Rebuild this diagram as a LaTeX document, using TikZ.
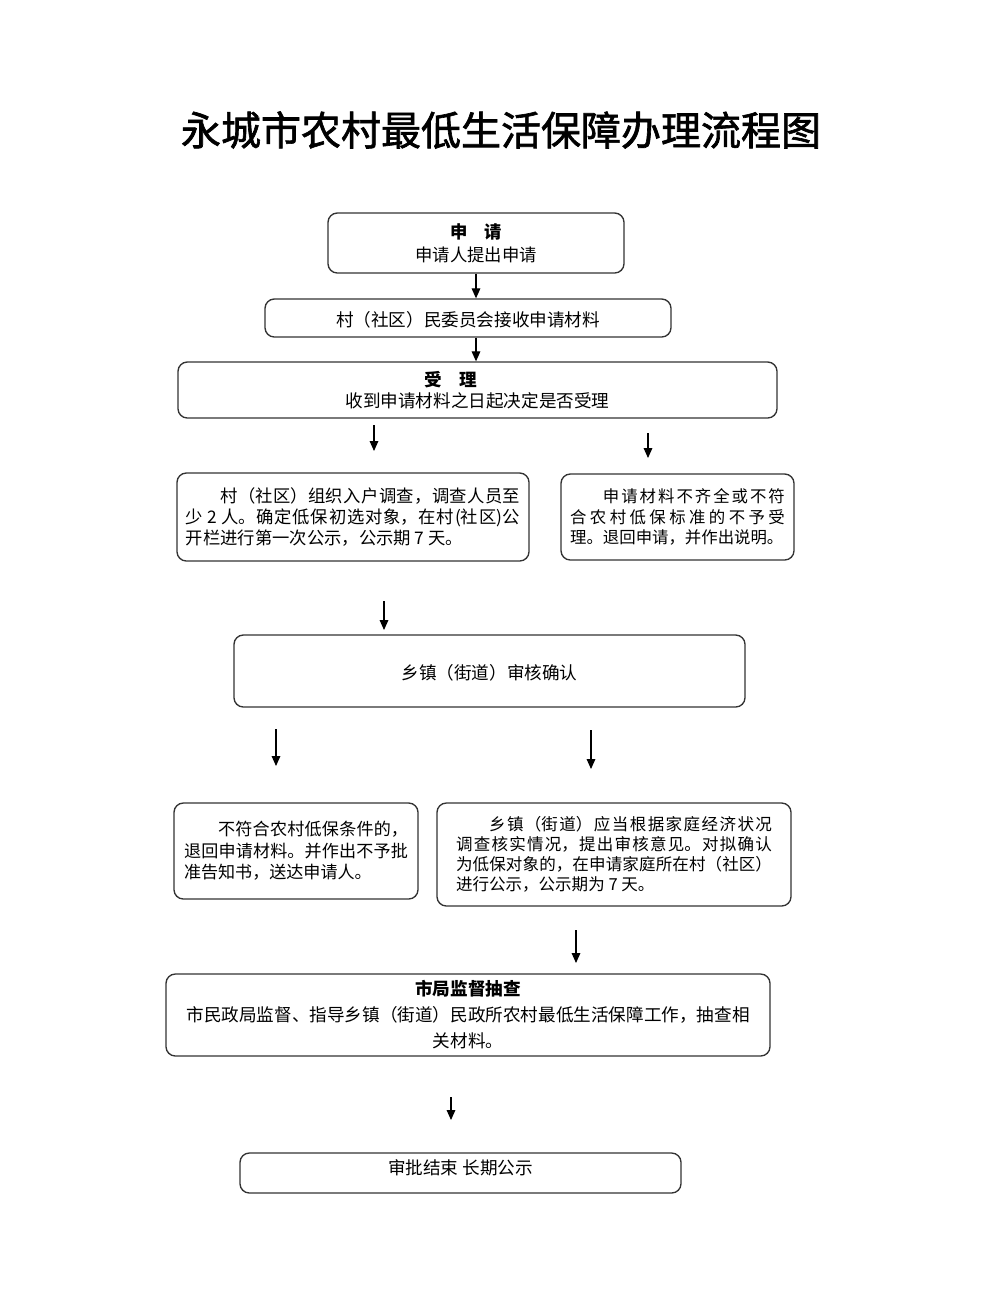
\documentclass[tikz,border=0pt]{standalone}
\usepackage{fontspec}
\setmainfont{Noto Sans CJK SC}
\newfontfamily\titlefont[FakeBold=1.6]{Noto Sans CJK SC}
\usetikzlibrary{arrows.meta}
\XeTeXlinebreaklocale "zh"
\XeTeXlinebreakskip=0pt plus 3pt minus 0.3pt
\newcommand{\boxfont}{\fontsize{13.2}{17}\selectfont}

\begin{document}
\begin{tikzpicture}[x=0.75pt,y=0.75pt,yscale=-1,xscale=1,
  flowbox/.style={draw=black!80, line width=1pt, rounded corners=7pt, inner sep=2pt, font=\boxfont},
  flowarrow/.style={draw=black, line width=0.8pt, -{Triangle[width=6.5pt,length=7.5pt]}}]
\useasboundingbox (0,0) rectangle (1000,1304);

% Title
\draw (501,130) node [font=\fontsize{30}{36}\titlefont] (title) {永城市农村最低生活保障办理流程图};

% Boxes
\node [flowbox, minimum width=222pt, minimum height=45pt, align=center, font=\fontsize{13}{17.25}\selectfont] (apply) at (476,243) {{\bfseries 申　请}\\申请人提出申请};
\node [flowbox, minimum width=304.5pt, minimum height=28.5pt, text height=14pt] (recv) at (468,318) {村（社区）民委员会接收申请材料};
\node [flowbox, minimum width=449.25pt, minimum height=42pt, align=center, font=\fontsize{13.2}{15.75}\selectfont] (accept) at (477.5,390) {{\bfseries 受　理}\hspace*{3em}\\收到申请材料之日起决定是否受理};
\node [flowbox, minimum width=264pt, minimum height=66pt, text width=251pt, align=justify, font=\fontsize{13}{15.4}\selectfont] (survey) at (353,517) {\noindent\hspace*{2em}村（社区）组织入户调查，调查人员至\linebreak 少 2 人。确定低保初选对象，在村(社区)公\linebreak 开栏进行第一次公示，公示期 7 天。\par\vspace*{8pt}};
\node [flowbox, minimum width=174.75pt, minimum height=64.5pt, text width=161pt, align=justify, font=\fontsize{12.3}{15.4}\selectfont] (reject) at (677.5,517) {\noindent\hspace*{2em}申请材料不齐全或不符\linebreak 合农村低保标准的不予受\linebreak 理。退回申请，并作出说明。\par\vspace*{6pt}};
\node [flowbox, minimum width=383.25pt, minimum height=54pt, text height=14pt] (town) at (489.5,671) {乡镇（街道）审核确认};
\node [flowbox, minimum width=183pt, minimum height=72pt, text width=168pt, align=justify, font=\fontsize{12.8}{16}\selectfont] (deny) at (296,851) {\noindent\hspace*{2em}不符合农村低保条件的，\linebreak 退回申请材料。并作出不予批\linebreak 准告知书，送达申请人。\par\vspace*{14pt}};
\node [flowbox, minimum width=265.5pt, minimum height=77.25pt, text width=237pt, align=justify, font=\fontsize{12.4}{15}\selectfont] (publish) at (614,854.5) {\noindent\hspace*{2em}乡镇（街道）应当根据家庭经济状况\linebreak 调查核实情况，提出审核意见。对拟确认\linebreak 为低保对象的，在申请家庭所在村（社区）\linebreak 进行公示，公示期为 7 天。};
\node [flowbox, minimum width=453pt, minimum height=61.5pt, align=center, font=\fontsize{13.2}{19.5}\selectfont] (city) at (468,1015) {{\bfseries 市局监督抽查}\\市民政局监督、指导乡镇（街道）民政所农村最低生活保障工作，抽查相\\关材料。};
\node [flowbox, minimum width=330.75pt, minimum height=30pt, text depth=9pt] (finish) at (460.5,1173) {审批结束 长期公示};

% Arrow ends
\coordinate (a3s) at (374,425);
\coordinate (a3e) at (374,451);
\coordinate (a4s) at (648,433);
\coordinate (a4e) at (648,458);
\coordinate (a5s) at (384,601);
\coordinate (a5e) at (384,630);
\coordinate (a6s) at (276,729);
\coordinate (a6e) at (276,766);
\coordinate (a7s) at (591,730);
\coordinate (a7e) at (591,769);
\coordinate (a8s) at (576,930);
\coordinate (a8e) at (576,963);
\coordinate (a9s) at (451,1097);
\coordinate (a9e) at (451,1120);

%Straight Lines
\draw [flowarrow] (apply.south) -- (recv.north -| apply.south);
\draw [flowarrow] (recv.south -| apply.south) -- (accept.north -| apply.south);
\draw [flowarrow] (a3s) -- (a3e);
\draw [flowarrow] (a4s) -- (a4e);
\draw [flowarrow] (a5s) -- (a5e);
\draw [flowarrow] (a6s) -- (a6e);
\draw [flowarrow] (a7s) -- (a7e);
\draw [flowarrow] (a8s) -- (a8e);
\draw [flowarrow] (a9s) -- (a9e);

\end{tikzpicture}
\end{document}
